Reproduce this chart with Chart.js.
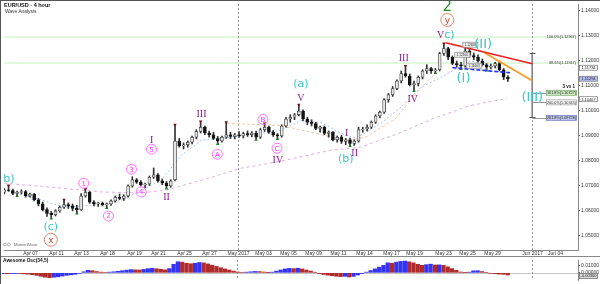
<!DOCTYPE html>
<html>
<head>
<meta charset="utf-8">
<script src="https://cdn.jsdelivr.net/npm/chart.js@4.4.1/dist/chart.umd.min.js"></script>
<style>
  html, body { margin: 0; padding: 0; background: #fff; }
  #wrap { position: relative; width: 600px; height: 284px; overflow: hidden; }
  #main { position: absolute; left: 0; top: 0; }
  #ao { position: absolute; left: 0; top: 256px; }
  #frame { position: absolute; left: 0; top: 0; width: 599px; height: 283px; border-top: 1px solid #555; border-left: 1px solid #555; pointer-events: none; }
</style>
</head>
<body>
<div id="wrap">
  <canvas id="main" width="600" height="256"></canvas>
  <canvas id="ao" width="600" height="28"></canvas>
  <div id="frame"></div>
</div>
<script>
// EUR/USD 8h-ish candles (index 0 = left edge)
const opens = [1.0675,1.0685,1.0682,1.0670,1.0675,1.0678,1.0660,1.0668,1.0645,1.0628,1.0605,1.0590,1.0585,1.0600,1.0615,1.0625,1.0620,1.0610,1.0605,1.0660,
  1.0675,1.0635,1.0628,1.0630,1.0625,1.0628,1.0640,1.0655,1.0650,1.0660,1.0700,1.0725,1.0715,1.0705,1.0708,1.0735,1.0745,1.0720,1.0712,1.0700,
  1.0725,1.0880,1.0860,1.0865,1.0875,1.0895,1.0918,1.0935,1.0912,1.0905,1.0890,1.0880,1.0895,1.0905,1.0898,1.0905,1.0900,1.0910,1.0905,1.0912,
  1.0895,1.0925,1.0935,1.0915,1.0905,1.0900,1.0940,1.0968,1.0975,1.0985,1.1000,1.0968,1.0955,1.0950,1.0930,1.0935,1.0910,1.0915,1.0885,1.0895,
  1.0878,1.0885,1.0870,1.0880,1.0925,1.0928,1.0935,1.0955,1.0980,1.0995,1.1045,1.1065,1.1090,1.1120,1.1150,1.1140,1.1105,1.1110,1.1135,1.1160,
  1.1170,1.1160,1.1165,1.1230,1.1250,1.1215,1.1190,1.1185,1.1180,1.1240,1.1222,1.1215,1.1200,1.1185,1.1175,1.1180,1.1190,1.1165,1.1135];
const highs = [1.0690,1.0702,1.0688,1.0680,1.0685,1.0682,1.0672,1.0670,1.0650,1.0636,1.0612,1.0598,1.0605,1.0620,1.0645,1.0632,1.0628,1.0622,1.0670,1.0688,
  1.0678,1.0642,1.0635,1.0636,1.0632,1.0645,1.0660,1.0668,1.0665,1.0705,1.0737,1.0730,1.0722,1.0712,1.0740,1.0772,1.0750,1.0728,1.0718,1.0725,
  1.0945,1.0890,1.0872,1.0880,1.0900,1.0925,1.0958,1.0940,1.0920,1.0915,1.0898,1.0900,1.0955,1.0915,1.0910,1.0918,1.0915,1.0920,1.0918,1.0920,
  1.0930,1.0950,1.0940,1.0922,1.0910,1.0945,1.0975,1.0985,1.0990,1.1025,1.1005,1.0975,1.0965,1.0955,1.0940,1.0940,1.0920,1.0918,1.0900,1.0902,
  1.0890,1.0892,1.0885,1.0935,1.0935,1.0945,1.0960,1.0985,1.1000,1.1050,1.1070,1.1098,1.1125,1.1160,1.1180,1.1148,1.1120,1.1140,1.1165,1.1185,
  1.1175,1.1170,1.1235,1.1270,1.1255,1.1220,1.1200,1.1195,1.1255,1.1250,1.1232,1.1225,1.1208,1.1190,1.1188,1.1195,1.1200,1.1170,1.1142];
const lows = [1.0668,1.0678,1.0665,1.0660,1.0668,1.0655,1.0655,1.0640,1.0620,1.0600,1.0578,1.0570,1.0580,1.0595,1.0610,1.0610,1.0600,1.0590,1.0602,1.0655,
  1.0630,1.0620,1.0618,1.0620,1.0612,1.0622,1.0635,1.0645,1.0642,1.0655,1.0695,1.0710,1.0700,1.0692,1.0702,1.0730,1.0715,1.0705,1.0690,1.0695,
  1.0720,1.0855,1.0848,1.0855,1.0868,1.0888,1.0912,1.0905,1.0895,1.0885,1.0868,1.0875,1.0890,1.0890,1.0888,1.0895,1.0892,1.0898,1.0896,1.0885,
  1.0890,1.0918,1.0910,1.0898,1.0888,1.0895,1.0935,1.0955,1.0965,1.0980,1.0960,1.0945,1.0940,1.0925,1.0915,1.0905,1.0895,1.0880,1.0875,1.0870,
  1.0865,1.0860,1.0862,1.0875,1.0915,1.0920,1.0930,1.0950,1.0972,1.0990,1.1035,1.1058,1.1085,1.1112,1.1135,1.1100,1.1080,1.1100,1.1128,1.1150,
  1.1150,1.1152,1.1160,1.1222,1.1205,1.1185,1.1175,1.1168,1.1175,1.1215,1.1205,1.1195,1.1180,1.1162,1.1168,1.1172,1.1160,1.1125,1.1118];
const closes = [1.0685,1.0682,1.0670,1.0675,1.0678,1.0660,1.0668,1.0645,1.0628,1.0605,1.0590,1.0585,1.0600,1.0615,1.0625,1.0620,1.0610,1.0605,1.0660,1.0675,
  1.0635,1.0628,1.0630,1.0625,1.0628,1.0640,1.0655,1.0650,1.0660,1.0700,1.0725,1.0715,1.0705,1.0708,1.0735,1.0745,1.0720,1.0712,1.0700,1.0720,
  1.0880,1.0860,1.0865,1.0875,1.0895,1.0918,1.0935,1.0912,1.0905,1.0890,1.0880,1.0895,1.0905,1.0898,1.0905,1.0900,1.0910,1.0905,1.0912,1.0895,
  1.0925,1.0935,1.0915,1.0905,1.0900,1.0940,1.0968,1.0975,1.0985,1.1000,1.0968,1.0955,1.0950,1.0930,1.0935,1.0910,1.0915,1.0885,1.0895,1.0878,
  1.0885,1.0870,1.0880,1.0925,1.0928,1.0935,1.0955,1.0980,1.0995,1.1045,1.1065,1.1090,1.1120,1.1150,1.1140,1.1105,1.1110,1.1135,1.1160,1.1170,
  1.1160,1.1165,1.1230,1.1250,1.1215,1.1190,1.1185,1.1180,1.1240,1.1222,1.1215,1.1200,1.1185,1.1175,1.1180,1.1190,1.1165,1.1135,1.1129];

// Awesome Oscillator (34,5), one value per candle
const aoValues = [-0.0010,-0.0012,-0.0010,-0.0008,-0.0010,-0.0014,-0.0018,-0.0025,-0.0035,-0.0048,-0.0060,-0.0068,-0.0062,-0.0055,-0.0045,-0.0035,-0.0028,-0.0020,-0.0008,0.0015,
  0.0035,0.0030,0.0018,0.0010,0.0008,0.0010,0.0015,0.0022,0.0030,0.0038,0.0045,0.0042,0.0040,0.0048,0.0058,0.0065,0.0058,0.0050,0.0042,0.0060,
  0.0120,0.0155,0.0150,0.0135,0.0128,0.0135,0.0145,0.0140,0.0125,0.0108,0.0090,0.0072,0.0055,0.0040,0.0025,0.0012,0.0008,0.0010,0.0015,0.0020,
  0.0018,0.0012,0.0004,0.0010,0.0025,0.0040,0.0055,0.0062,0.0060,0.0065,0.0055,0.0040,0.0025,0.0008,-0.0010,-0.0022,-0.0032,-0.0040,-0.0048,-0.0052,
  -0.0048,-0.0058,-0.0050,-0.0030,-0.0010,0.0010,0.0032,0.0055,0.0080,0.0105,0.0140,0.0135,0.0150,0.0160,0.0165,0.0155,0.0140,0.0120,0.0105,0.0115,
  0.0122,0.0110,0.0112,0.0105,0.0085,0.0060,0.0035,0.0012,0.0005,0.0010,0.0028,0.0030,0.0018,0.0006,-0.0008,-0.0012,-0.0018,-0.0020,-0.0030];

// moving averages, read at a few points
const fastMaIdx = [1.8, 8.8, 13.5, 18.1, 22.8, 27.5, 32.1, 36.8, 41.5, 46.2, 53.2, 60.2, 64.8, 69.5, 74.2, 78.8, 82.4, 88.2, 92.9, 97.5, 102.2, 109.2, 116.2];
const fastMaVal = [1.0676, 1.0644, 1.0616, 1.0620, 1.0624, 1.0644, 1.0683, 1.0723, 1.0823, 1.0883, 1.0895, 1.0911, 1.0922, 1.0962, 1.0954, 1.0911, 1.0891, 1.0950, 1.1014, 1.1094, 1.1133, 1.1201, 1.1169];
const slowMaIdx = [0, 11.1, 22.8, 32.1, 38, 46.2, 55.5, 63.7, 76.5, 83.5, 92.9, 100.6, 109.2, 117.8];
const slowMaVal = [1.0711, 1.0695, 1.0676, 1.0672, 1.0684, 1.0723, 1.0771, 1.0795, 1.0843, 1.0855, 1.0914, 1.0970, 1.1022, 1.1050];
const midMaIdx = [52.2, 64.8, 80, 84.7, 91.7, 97.5, 103.4];
const midMaVal = [1.0950, 1.0942, 1.0883, 1.0895, 1.0970, 1.1090, 1.1193];

// trend lines and projection
const redIdx = [103.4, 123.7], redVal = [1.1273, 1.1189];
const orangeIdx = [112.5, 123.7], orangeVal = [1.1233, 1.1121];
const blueIdx = [105, 118.5], blueVal = [1.1173, 1.1153];
const projIdx = [123.7, 123.7], projVal = [1.1233, 1.0974];

// swing markers (candle indexes)
const highMarks = [1, 14, 19, 40, 46, 52, 61, 69, 94, 103];
const lowMarks = [3, 11, 17, 24, 38, 50, 59, 64, 81, 96, 101, 107, 113];

// wave labels
const waveText = ['b)', '(c)', 'x', '1', '2', '3', '4', '5', 'I', 'II', 'III', 'A', 'B', 'C', 'IV', '(a)', 'V', 'I', '(b)', 'II', 'III', 'IV', 'V', 'c)', 'y', '2', '(I)', '(II)', '(III)'];
const waveIdx = [1.1, 10.9, 10.9, 18.6, 24.4, 29.8, 32.1, 34.5, 34.5, 38, 46.2, 49.9, 60.6, 63.9, 64.1, 69.5, 69.5, 80.2, 80, 82.1, 93.6, 95.7, 102.2, 104.3, 103.8, 103.8, 107.6, 112.2, 123.7];
const wavePrice = [1.0731, 1.0536, 1.0485, 1.0711, 1.0580, 1.0767, 1.0676, 1.0847, 1.0883, 1.0656, 1.0990, 1.0827, 1.0966, 1.0851, 1.0803, 1.1110, 1.1054, 1.0914, 1.0811, 1.0831, 1.1213, 1.1050, 1.1304, 1.1304, 1.1364, 1.1416, 1.1133, 1.1269, 1.1054];
const waveDegree = ['teal','teal','orange','pink','pink','pink','pink','pink','purple','purple','purple','pink','pink','pink','purple','teal','purple','purple','teal','purple','purple','purple','purple','teal','orange','green','tealBig','tealBig','tealBig'];

// fibonacci levels
const fibText = ['100.0%(1.12967)', '88.6%(1.11917)'];
const fibLevels = [1.12967, 1.11917];
const projText = ['161.8%(1.10727)', '200.0%(1.10345)', '261.8%(1.09726)'];
const projLevels = [1.10727, 1.10345, 1.09726];

// small price tags
const tagText = ['1.12658', '1.12100', '1.11603'];
const tagIdx = [109.2, 107.3, 110.1];
const tagVal = [1.1265, 1.1225, 1.1181];
const axisTagText = ['1.11734', '1.11294', '1.10467'];
const axisTagVal = [1.1173, 1.1129, 1.1047];

// axis ticks
const tickLabels = ['Apr 07','Apr 11','Apr 13','Apr 18','Apr 19','Apr 21','Apr 25','Apr 27','May 2017','May 03','May 05','May 09','May 11','May 14','May 17','May 19','May 23','May 25','May 29','Jun 2017','Jun 04'];
const tickIdx = [6, 12, 18, 24, 30.3, 36.1, 42.2, 48, 54.8, 60.6, 66.5, 72.3, 78.1, 84.2, 90.5, 96.1, 102.7, 108.5, 114.3, 123.7, 129];
const monthIdx = [54.8, 123.7];
const priceTicks = [1.05, 1.06, 1.07, 1.08, 1.09, 1.10, 1.11, 1.12, 1.13, 1.14];
const aoTicks = [0, 0.01];

const FONT = '"Liberation Sans", Arial, sans-serif';
Chart.defaults.font.family = FONT;

const X_MIN = -0.07, X_MAX = 134.42;

const waveStyle = {
  pink:    { font: '7px "DejaVu Sans"', color: '#ff2cff', ring: '#ff70ff', r: 5 },
  purple:  { font: '10px "Liberation Serif"', color: '#8a1c8a' },
  teal:    { font: '11px "DejaVu Sans"', color: '#3cc6c6' },
  tealBig: { font: '13px "DejaVu Sans"', color: '#3cc6c6' },
  orange:  { font: '9px "DejaVu Sans"', color: '#c04828', ring: '#d8876a', r: 6.5 },
  green:   { font: '15px "DejaVu Sans"', color: '#1e8c1e' }
};

function pts(xs, ys) { return xs.map((x, k) => ({ x: x, y: ys[k] })); }

function hline(ctx, x1, x2, y) { ctx.beginPath(); ctx.moveTo(x1, y); ctx.lineTo(x2, y); ctx.stroke(); }
function vline(ctx, x, y1, y2) { ctx.beginPath(); ctx.moveTo(x, y1); ctx.lineTo(x, y2); ctx.stroke(); }

function tag(ctx, text, x, y, w, fill, stroke, size) {
  ctx.fillStyle = fill; ctx.strokeStyle = stroke; ctx.lineWidth = 0.7;
  ctx.fillRect(x, y - 2.5, w, 5);
  ctx.strokeRect(x + 0.5, y - 2.5, w - 1, 5);
  ctx.fillStyle = '#222';
  ctx.font = size + 'px ' + FONT;
  ctx.textAlign = 'center'; ctx.textBaseline = 'middle';
  ctx.fillText(text, x + w / 2, y + 0.3);
}

const mainOverlay = {
  id: 'mainOverlay',
  beforeDatasetsDraw(chart) {
    const { ctx, chartArea: a, scales: { x, y } } = chart;
    ctx.save();
    ctx.strokeStyle = '#d6f6cf'; ctx.lineWidth = 1.5;
    fibLevels.forEach(v => hline(ctx, a.left, a.right, Math.round(y.getPixelForValue(v))));
    ctx.strokeStyle = '#9a9a9a'; ctx.lineWidth = 1; ctx.setLineDash([2, 2]);
    monthIdx.forEach(v => vline(ctx, Math.round(x.getPixelForValue(v)) + 0.5, a.top, a.bottom));
    ctx.restore();
  },
  afterDatasetsDraw(chart) {
    const { ctx, chartArea: a, scales: { x, y } } = chart;
    ctx.save();
    // projection caps and level connectors
    const px = Math.round(x.getPixelForValue(projIdx[0])) + 0.5;
    ctx.strokeStyle = '#555'; ctx.lineWidth = 1;
    hline(ctx, px - 3, px + 3, Math.round(y.getPixelForValue(projVal[0])) + 0.5);
    hline(ctx, px - 3, px + 3, Math.round(y.getPixelForValue(projVal[1])) + 0.5);
    ctx.strokeStyle = '#999';
    projLevels.forEach(v => hline(ctx, px, a.right - 32, Math.round(y.getPixelForValue(v)) + 0.5));
    const projFill = ['#cdefc4', '#ffffff', '#c1c7f0'];
    const projStroke = ['#79a86f', '#999999', '#6c76b8'];
    projLevels.forEach((v, k) => tag(ctx, projText[k], a.right - 32, y.getPixelForValue(v), 31, projFill[k], projStroke[k], 3.8));
    ctx.fillStyle = '#111'; ctx.font = 'bold 4.5px ' + FONT; ctx.textAlign = 'right'; ctx.textBaseline = 'middle';
    ctx.fillText('3 vs 1', a.right - 3, y.getPixelForValue(1.1098));
    // fib texts at right
    ctx.fillStyle = '#333'; ctx.font = '3.8px ' + FONT;
    fibLevels.forEach((v, k) => ctx.fillText(fibText[k], a.right - 2, y.getPixelForValue(v)));
    // price tags near wave (II)
    tagText.forEach((t, k) => tag(ctx, t, x.getPixelForValue(tagIdx[k]) - 8, y.getPixelForValue(tagVal[k]), 16, '#f2f2f2', '#888', 3.2));
    // wave labels
    ctx.textAlign = 'center'; ctx.textBaseline = 'middle';
    waveText.forEach((t, k) => {
      const st = waveStyle[waveDegree[k]];
      const lx = x.getPixelForValue(waveIdx[k]);
      const ly = y.getPixelForValue(wavePrice[k]);
      if (st.r) {
        ctx.beginPath(); ctx.arc(lx, ly, st.r, 0, Math.PI * 2);
        ctx.strokeStyle = st.ring; ctx.lineWidth = 1; ctx.stroke();
      }
      ctx.font = st.font; ctx.fillStyle = st.color;
      ctx.fillText(t, lx, ly + 0.5);
    });
    ctx.restore();
  },
  afterDraw(chart) {
    const { ctx, chartArea: a, scales: { x, y } } = chart;
    ctx.save();
    // time labels under the plot
    ctx.fillStyle = '#333'; ctx.font = '5px ' + FONT;
    ctx.textAlign = 'center'; ctx.textBaseline = 'top';
    ctx.strokeStyle = '#888'; ctx.lineWidth = 1;
    tickIdx.forEach((v, k) => {
      const tx = Math.round(x.getPixelForValue(v)) + 0.5;
      vline(ctx, tx, a.bottom, a.bottom + 1.5);
      ctx.fillText(tickLabels[k], tx, a.bottom + 1);
    });
    const fills = ['#ffffff', '#b4bdf2', '#ffffff'];
    axisTagText.forEach((t, k) => tag(ctx, t, a.right + 1, y.getPixelForValue(axisTagVal[k]), 19, fills[k], '#777', 4));
    ctx.textAlign = 'left'; ctx.textBaseline = 'top';
    ctx.fillStyle = '#111'; ctx.font = 'bold 5.5px ' + FONT;
    ctx.fillText('EUR/USD - 4 hour', 4, 2.5);
    ctx.fillStyle = '#333'; ctx.font = '4.8px ' + FONT;
    ctx.fillText('Wave Analysis', 5, 9.5);
    ctx.fillStyle = '#666'; ctx.font = '4.3px ' + FONT; ctx.textBaseline = 'middle';
    ctx.fillText('MotiveWave', 14, 244.5);
    ctx.strokeStyle = '#888'; ctx.lineWidth = 0.6;
    [5, 9].forEach(cx => { ctx.beginPath(); ctx.arc(cx, 244.5, 1.5, 0, Math.PI * 2); ctx.stroke(); });
    ctx.restore();
  }
};

new Chart(document.getElementById('main'), {
  type: 'bar',
  data: {
    datasets: [
      { type: 'line', data: pts(redIdx, redVal), borderColor: '#f01e1e', borderWidth: 1.6, pointRadius: 0, order: 0 },
      { type: 'line', data: pts(orangeIdx, orangeVal), borderColor: '#ff9a1c', borderWidth: 1.6, pointRadius: 0, order: 0 },
      { type: 'line', data: pts(blueIdx, blueVal), borderColor: '#1f2fff', borderWidth: 1.6, borderDash: [4, 2], pointRadius: 0, order: 0 },
      { type: 'line', data: pts(projIdx, projVal), borderColor: '#808080', borderWidth: 1, pointRadius: 0, order: 0 },
      { type: 'line', data: highMarks.map(i => ({ x: i, y: highs[i] })), showLine: false, pointStyle: 'triangle', pointRotation: 180,
        pointRadius: 2, pointBackgroundColor: '#7a1414', pointBorderWidth: 0, order: 1 },
      { type: 'line', data: lowMarks.map(i => ({ x: i, y: lows[i] })), showLine: false, pointStyle: 'triangle',
        pointRadius: 2, pointBackgroundColor: '#1f7a1f', pointBorderWidth: 0, order: 1 },
      { data: closes.map((c, i) => ({ x: i, y: [opens[i], c] })),
        backgroundColor: closes.map((c, i) => c >= opens[i] ? '#e6e6e6' : '#141414'),
        borderColor: closes.map((c, i) => c >= opens[i] ? '#444' : '#141414'),
        borderWidth: 0.8, borderSkipped: false, barThickness: 3, grouped: false, order: 2 },
      { data: highs.map((h, i) => ({ x: i, y: [lows[i], h] })), backgroundColor: '#333', barThickness: 1, grouped: false, order: 3 },
      { type: 'line', data: pts(fastMaIdx, fastMaVal), borderColor: '#a9c3f5', borderWidth: 1, borderDash: [2, 2], pointRadius: 0, order: 4 },
      { type: 'line', data: pts(slowMaIdx, slowMaVal), borderColor: '#dfaede', borderWidth: 1, borderDash: [3, 3], pointRadius: 0, order: 4 },
      { type: 'line', data: pts(midMaIdx, midMaVal), borderColor: '#f6c9a2', borderWidth: 1, borderDash: [3, 2], pointRadius: 0, order: 4 }
    ]
  },
  options: {
    responsive: false,
    animation: false,
    events: [],
    layout: { padding: { left: 2, top: 3, right: 0, bottom: 0 } },
    plugins: { legend: { display: false }, tooltip: { enabled: false } },
    scales: {
      x: {
        type: 'linear', min: X_MIN, max: X_MAX, offset: false,
        grid: { display: false, offset: false },
        border: { display: true, color: '#888' },
        ticks: { display: false },
        afterFit: s => { s.height = 6; }
      },
      y: {
        position: 'right', min: 1.04438, max: 1.14279,
        grid: { display: true, drawOnChartArea: false, tickLength: 2, color: '#666' },
        border: { display: true, color: '#888' },
        afterBuildTicks: s => { s.ticks = priceTicks.map(v => ({ value: v })); },
        afterFit: s => { s.width = 22; },
        ticks: { padding: 1, color: '#333', font: { size: 5 }, callback: v => v.toFixed(5) }
      }
    }
  },
  plugins: [mainOverlay]
});

const aoOverlay = {
  id: 'aoOverlay',
  beforeDatasetsDraw(chart) {
    const { ctx, chartArea: a, scales: { x, y } } = chart;
    ctx.save();
    ctx.strokeStyle = '#c4c4c4'; ctx.lineWidth = 1;
    hline(ctx, a.left, a.right, Math.round(y.getPixelForValue(0)) + 0.5);
    ctx.strokeStyle = '#9a9a9a'; ctx.setLineDash([2, 2]);
    monthIdx.forEach(v => vline(ctx, Math.round(x.getPixelForValue(v)) + 0.5, a.top, a.bottom));
    ctx.restore();
  },
  afterDraw(chart) {
    const { ctx, chartArea: a, scales: { y } } = chart;
    ctx.save();
    ctx.strokeStyle = '#888'; ctx.lineWidth = 1;
    hline(ctx, 0, 600, 0.5);
    ctx.fillStyle = '#111'; ctx.font = 'bold 4.8px ' + FONT;
    ctx.textAlign = 'left'; ctx.textBaseline = 'middle';
    ctx.fillText('Awesome Osc(34,5)', 3, 4.5);
    tag(ctx, '-0.00300', a.right + 1, y.getPixelForValue(aoValues[aoValues.length - 1]) + 1, 19, '#dcdcdc', '#666', 4);
    ctx.restore();
  }
};

new Chart(document.getElementById('ao'), {
  type: 'bar',
  data: {
    datasets: [{
      data: aoValues.map((v, i) => ({ x: i, y: v })),
      backgroundColor: aoValues.map((v, i) => (i > 0 && v < aoValues[i - 1]) ? '#b02c2c' : '#3434f2'),
      barThickness: 3.6, borderWidth: 0
    }]
  },
  options: {
    responsive: false,
    animation: false,
    events: [],
    layout: { padding: { left: 2, top: 0, right: 0, bottom: 0 } },
    plugins: { legend: { display: false }, tooltip: { enabled: false } },
    scales: {
      x: { type: 'linear', min: X_MIN, max: X_MAX, offset: false, display: false },
      y: {
        position: 'right', min: -0.010, max: 0.018,
        grid: { display: true, drawOnChartArea: false, tickLength: 2, color: '#666' },
        border: { display: true, color: '#888' },
        afterBuildTicks: s => { s.ticks = aoTicks.map(v => ({ value: v })); },
        afterFit: s => { s.width = 22; },
        ticks: { padding: 1, color: '#333', font: { size: 5 }, callback: v => v.toFixed(5) }
      }
    }
  },
  plugins: [aoOverlay]
});
</script>
</body>
</html>
